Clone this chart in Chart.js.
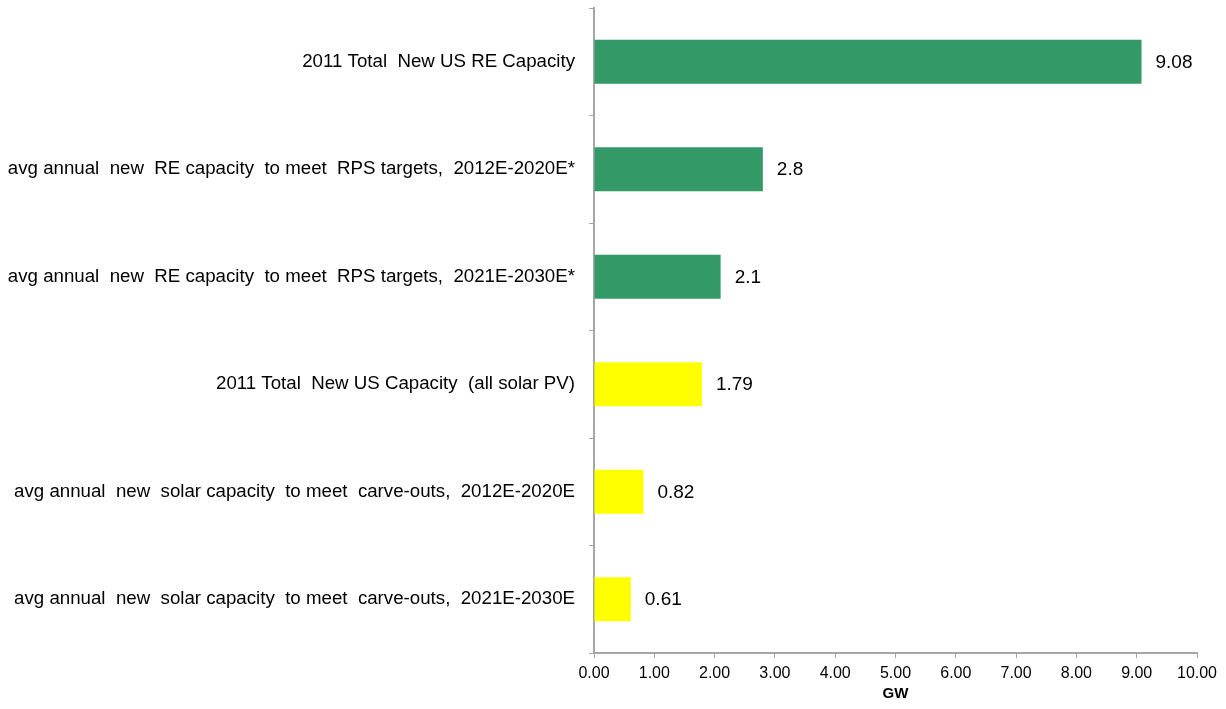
<!DOCTYPE html>
<html>
<head>
<meta charset="utf-8">
<script src="https://cdn.jsdelivr.net/npm/chart.js@4.4.0/dist/chart.umd.min.js"></script>
<style>
  html, body { margin: 0; padding: 0; background: #fff; }
  #box { width: 1226px; height: 709px; }
</style>
</head>
<body>
<div id="box"><canvas id="grafico"></canvas></div>
<script>
// categorias e valores (GW)
const categorias = [
  "2011 Total  New US RE Capacity",
  "avg annual  new  RE capacity  to meet  RPS targets,  2012E-2020E*",
  "avg annual  new  RE capacity  to meet  RPS targets,  2021E-2030E*",
  "2011 Total  New US Capacity  (all solar PV)",
  "avg annual  new  solar capacity  to meet  carve-outs,  2012E-2020E",
  "avg annual  new  solar capacity  to meet  carve-outs,  2021E-2030E"
];
const valores = [9.08, 2.8, 2.1, 1.79, 0.82, 0.61];
const rotulos = ["9.08", "2.8", "2.1", "1.79", "0.82", "0.61"];
const cores = ["#339966", "#339966", "#339966", "#ffff00", "#ffff00", "#ffff00"];

const fonte = "'Liberation Sans', Arial, sans-serif";

// escreve o valor ao lado de cada barra
const rotuloValores = {
  id: "rotuloValores",
  afterDatasetsDraw(chart) {
    const ctx = chart.ctx;
    const meta = chart.getDatasetMeta(0);
    ctx.save();
    ctx.font = "19px " + fonte;
    ctx.fillStyle = "#000";
    ctx.textBaseline = "middle";
    ctx.textAlign = "left";
    meta.data.forEach((barra, i) => {
      ctx.fillText(rotulos[i], barra.x + 14, barra.y + 1);
    });
    ctx.restore();
  }
};

const ctx = document.getElementById("grafico").getContext("2d");
new Chart(ctx, {
  type: "bar",
  data: {
    labels: categorias,
    datasets: [{
      data: valores,
      backgroundColor: cores,
      borderWidth: 0,
      barPercentage: 0.82,
      categoryPercentage: 0.5
    }]
  },
  options: {
    indexAxis: "y",
    responsive: true,
    maintainAspectRatio: false,
    animation: false,
    layout: { padding: { top: 8, right: 29, bottom: 0, left: 0 } },
    plugins: { legend: { display: false }, tooltip: { enabled: false } },
    scales: {
      x: {
        min: 0,
        max: 10,
        afterFit: s => { s.height = 56; },
        ticks: {
          stepSize: 1,
          color: "#000",
          padding: 6,
          font: { family: fonte, size: 16 },
          callback: v => v.toFixed(2)
        },
        grid: { drawOnChartArea: false, tickLength: 5, color: "#a6a6a6" },
        border: { color: "#a6a6a6", width: 2 },
        title: {
          display: true,
          text: "GW",
          color: "#000",
          padding: { top: 0, bottom: 6 },
          font: { family: fonte, size: 15, weight: "bold" }
        }
      },
      y: {
        afterFit: s => { s.width = 594; s.paddingTop = 0; s.paddingBottom = 0; },
        ticks: {
          color: "#000",
          padding: 14,
          font: { family: fonte, size: 18.7 }
        },
        grid: { drawOnChartArea: false, offset: true, tickLength: 5, color: "#a6a6a6" },
        border: { color: "#a6a6a6", width: 2 }
      }
    }
  },
  plugins: [rotuloValores]
});
</script>
</body>
</html>
